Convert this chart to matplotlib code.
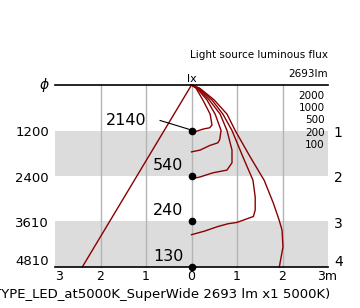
import numpy as np
import matplotlib
matplotlib.use("Agg")
import matplotlib.pyplot as plt

# data
depths = [1, 2, 3, 4]
diameters = ['1200', '2400', '3610', '4810']
lux_axis = ['2140', '540', '240', '130']
levels = ['2000', '1000', '500', '200', '100']
tick_labels = ['3', '2', '1', '0', '1', '2', '3m']

# isolux curves (x in m, depth in m)
c2000_x = [0, 0.10, 0.25, 0.41, 0.45, 0.40, 0.25, 0.10, 0]
c2000_d = [0, 0.07, 0.33, 0.64, 0.88, 0.94, 0.97, 1.02, 1.04]
c1000_x = [0, 0.12, 0.34, 0.52, 0.65, 0.62, 0.58, 0.40, 0.19, 0]
c1000_d = [0, 0.07, 0.33, 0.64, 1.00, 1.20, 1.27, 1.33, 1.43, 1.47]
c500_x = [0, 0.14, 0.39, 0.63, 0.78, 0.89, 0.89, 0.78, 0.47, 0.19, 0]
c500_d = [0, 0.07, 0.33, 0.64, 1.00, 1.43, 1.71, 1.87, 1.93, 2.02, 2.06]
c200_x = [0, 0.16, 0.45, 0.69, 0.89, 1.13, 1.35, 1.40, 1.40, 1.36, 1.00, 0.80, 0.58, 0.29, 0]
c200_d = [0, 0.07, 0.33, 0.64, 1.00, 1.58, 2.09, 2.46, 2.75, 2.89, 3.02, 3.05, 3.11, 3.21, 3.29]
c100_x = [0, 0.18, 0.50, 0.78, 0.96, 1.29, 1.60, 1.80, 1.92, 1.99, 2.01, 1.93]
c100_d = [0, 0.07, 0.33, 0.64, 1.00, 1.58, 2.10, 2.60, 2.95, 3.19, 3.56, 4.00]
beam_x = [0, -2.40]
beam_d = [0, 4.0]

red = '#8b0000'
fig = plt.figure(figsize=(3.6, 3.08), dpi=100)
ax = fig.add_axes([0, 0, 1, 1])
ax.set_xlim(-191.5 / 45.5, (360 - 191.5) / 45.5)
ax.set_ylim(4 + 41 / 45.5, -85 / 45.5)
ax.axis('off')

# grey bands
ax.fill_between([-3, 3], 1, 2, color='#dcdcdc', lw=0, zorder=0)
ax.fill_between([-3, 3], 3, 4, color='#dcdcdc', lw=0, zorder=0)
for gx in [-2, -1, 0, 1, 2]:
    ax.plot([gx, gx], [0, 4], color='#b4b4b4', lw=1, zorder=1)
ax.plot([-3, 3], [0, 0], color='black', lw=1.2, zorder=3)
ax.plot([-3, 3], [4, 4], color='black', lw=1.2, zorder=3)

for cx, cd in [(c2000_x, c2000_d), (c1000_x, c1000_d), (c500_x, c500_d),
               (c200_x, c200_d), (c100_x, c100_d), (beam_x, beam_d)]:
    ax.plot(cx, cd, color=red, lw=1, zorder=2, clip_on=False)

ax.plot([0] * len(depths), depths, 'o', color='black', ms=4.5, zorder=4, clip_on=False)
ax.plot([-0.69, 0], [0.78, 0.99], color='black', lw=0.8, zorder=4)

# left / right labels
for i, d in enumerate(depths):
    off = 0.05 if i < 3 else -0.12
    ax.text(-3.13, d + off, diameters[i], ha='right', va='center', fontsize=9.5)
    ax.text(3.13, d + off, str(d), ha='left', va='center', fontsize=10)
ax.text(-3.24, 0, r'$\phi$', ha='center', va='center', fontsize=10)

# values on axis
ax.text(-0.98, 0.79, lux_axis[0], ha='right', va='center', fontsize=11.5)
for i in range(1, 4):
    ax.text(-0.18, depths[i] - 0.24, lux_axis[i], ha='right', va='center', fontsize=11.5)

# isolux legend
for i, lv in enumerate(levels):
    ax.text(2.93, 0.24 + 0.27 * i, lv, ha='right', va='center', fontsize=7.5)

ax.text(2.99, -0.66, 'Light source luminous flux', ha='right', va='center', fontsize=7.5)
ax.text(2.99, -0.24, '2693lm', ha='right', va='center', fontsize=7.5)
ax.text(0, -0.14, 'lx', ha='center', va='center', fontsize=8)

# bottom ticks
for i, t in enumerate(tick_labels):
    x = i - 3
    if i == 0:
        ax.text(-3, 4.2, t, ha='left', va='center', fontsize=9)
    elif i == 6:
        ax.text(2.76, 4.2, t, ha='left', va='center', fontsize=9)
    else:
        ax.text(x, 4.2, t, ha='center', va='center', fontsize=9)

ax.text(3.05, 4.6, '(TYPE_LED_at5000K_SuperWide 2693 lm x1 5000K)',
        ha='right', va='center', fontsize=9.5)

fig.savefig('out.png', dpi=100)
